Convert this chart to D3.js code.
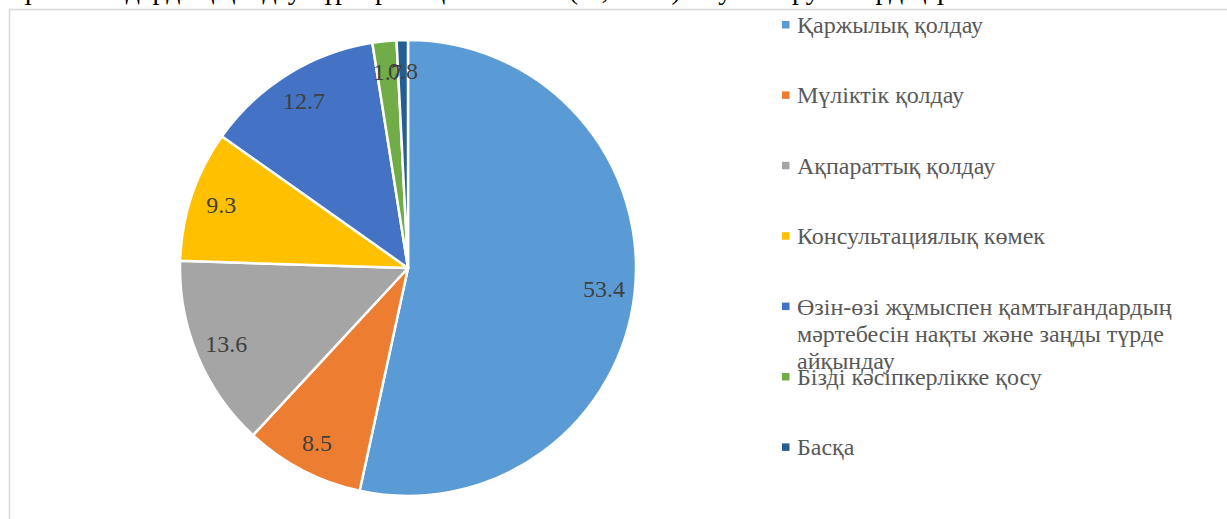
<!DOCTYPE html>
<html>
<head>
<meta charset="utf-8">
<script src="https://cdn.jsdelivr.net/npm/d3@7"></script>
<style>
  html, body { margin: 0; padding: 0; background: #fff; }
  svg { display: block; }
</style>
</head>
<body>
<svg id="chart" width="1227" height="519"></svg>
<script>
// Support types and their shares, %
const categories = [
  "Қаржылық қолдау",
  "Мүліктік қолдау",
  "Ақпараттық қолдау",
  "Консультациялық көмек",
  "Өзін-өзі жұмыспен қамтығандардың мәртебесін нақты және заңды түрде айқындау",
  "Бізді кәсіпкерлікке қосу",
  "Басқа"
];
const values = [53.4, 8.5, 13.6, 9.3, 12.7, 1.7, 0.8];
const colors = ["#5B9BD5", "#ED7D31", "#A5A5A5", "#FFC000", "#4472C4", "#70AD47", "#255E91"];
const captionText = "Жұмыссыздардың қолдау түрлеріне қажеттілігі (%, 2023) жауап берушілердің үлесі";

const serif = "'Liberation Serif', 'Times New Roman', 'DejaVu Serif', serif";
const svg = d3.select("#chart");
const W = 1227, H = 519;

// caption line above the chart frame (only its lower edge falls inside the page)
svg.append("text")
  .attr("x", -4).attr("y", -1)
  .attr("font-family", serif)
  .attr("font-size", 28)
  .attr("fill", "#000")
  .text(captionText);

// chart frame
svg.append("rect")
  .attr("x", 9.5).attr("y", 9.5)
  .attr("width", W + 20).attr("height", H + 20)
  .attr("fill", "#fff")
  .attr("stroke", "#D9D9D9")
  .attr("stroke-width", 1.5);

const cx = 408, cy = 268, R = 228;
const labelR = 197;

const data = categories.map((c, i) => ({ name: c, value: values[i], color: colors[i] }));

const pie = d3.pie().value(d => d.value).sort(null);
const arcs = pie(data);
const arc = d3.arc().innerRadius(0).outerRadius(R);

const g = svg.append("g").attr("transform", `translate(${cx},${cy})`);

g.selectAll("path.slice")
  .data(arcs)
  .join("path")
  .attr("class", "slice")
  .attr("d", arc)
  .attr("fill", d => d.data.color)
  .attr("stroke", "#fff")
  .attr("stroke-width", 2.5)
  .attr("stroke-linejoin", "round");

g.selectAll("text.val")
  .data(arcs)
  .join("text")
  .attr("class", "val")
  .attr("x", d => labelR * Math.sin((d.startAngle + d.endAngle) / 2))
  .attr("y", d => -labelR * Math.cos((d.startAngle + d.endAngle) / 2))
  .attr("text-anchor", "middle")
  .attr("dominant-baseline", "central")
  .attr("font-family", serif)
  .attr("font-size", 24)
  .attr("fill", "#404040")
  .text(d => d3.format(".1f")(d.data.value));

// legend
const legendX = 782, legendTop = 25, legendStep = 70.4, lineH = 27, wrapW = 400;
const legend = svg.append("g");

data.forEach((d, i) => {
  const yc = legendTop + legendStep * i;
  const item = legend.append("g");
  item.append("rect")
    .attr("x", legendX).attr("y", yc - 4)
    .attr("width", 7.5).attr("height", 7.5)
    .attr("fill", d.color);
  const t = item.append("text")
    .attr("x", legendX + 15)
    .attr("font-family", serif)
    .attr("font-size", 24)
    .attr("fill", "#595959");
  // word wrap within the legend column
  const words = d.name.split(" ");
  let lines = [], cur = "";
  const probe = svg.append("text")
    .attr("font-family", serif)
    .attr("font-size", 24).attr("visibility", "hidden");
  words.forEach(w => {
    const test = cur ? cur + " " + w : w;
    probe.text(test);
    if (probe.node().getComputedTextLength() > wrapW && cur) {
      lines.push(cur); cur = w;
    } else cur = test;
  });
  lines.push(cur);
  probe.remove();
  lines.forEach((ln, k) => {
    t.append("tspan")
      .attr("x", legendX + 15)
      .attr("y", yc + k * lineH)
      .attr("dominant-baseline", "central")
      .text(ln);
  });
});
</script>
</body>
</html>
